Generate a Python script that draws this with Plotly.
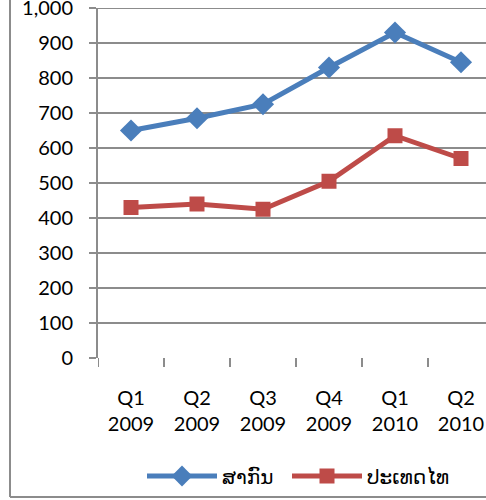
import plotly.graph_objects as go

categories = ["Q1<br>2009", "Q2<br>2009", "Q3<br>2009", "Q4<br>2009", "Q1<br>2010", "Q2<br>2010"]
intl_values = [650, 685, 725, 830, 930, 845]
thai_values = [430, 440, 425, 505, 635, 570]
series_names = ["ສາກົນ", "ປະເທດໄທ"]
y_ticks = [0, 100, 200, 300, 400, 500, 600, 700, 800, 900, 1000]

W, H = 486, 500
L, T, B = 98, 8, 142
plot_w = W - L
plot_h = H - T - B

fig = go.Figure()
fig.add_trace(go.Scatter(
    x=list(range(len(categories))), y=intl_values, name=series_names[0],
    mode="lines+markers", legend="legend",
    line=dict(color="#4A7EBB", width=5),
    marker=dict(symbol="diamond", size=17, color="#4A7EBB"),
))
fig.add_trace(go.Scatter(
    x=list(range(len(categories))), y=thai_values, name=series_names[1],
    mode="lines+markers", legend="legend2",
    line=dict(color="#BE4B48", width=5),
    marker=dict(symbol="square", size=15, color="#BE4B48"),
))

font = dict(family="Lato, 'DejaVu Sans', sans-serif", size=20, color="#000000")

cat_px = 66.0
right_val = -0.5 + plot_w / cat_px
leg_y = (H - B - 476) / plot_h

fig.update_layout(
    width=W, height=H,
    margin=dict(l=L, r=0, t=T, b=B, autoexpand=False),
    paper_bgcolor="white", plot_bgcolor="white",
    font=font,
    showlegend=True,
    legend=dict(orientation="h", x=(142 - L) / plot_w, y=leg_y, xanchor="left", yanchor="middle",
                font=font, itemwidth=70, bgcolor="rgba(0,0,0,0)"),
    legend2=dict(orientation="h", x=(287 - L) / plot_w, y=leg_y, xanchor="left", yanchor="middle",
                 font=font, itemwidth=70, bgcolor="rgba(0,0,0,0)"),
    xaxis=dict(
        range=[-0.5, right_val],
        tickmode="array", tickvals=list(range(len(categories))), ticktext=categories,
        showgrid=False, showline=False, zeroline=False,
        ticks="", tickfont=font, ticklabelstandoff=26,
    ),
    yaxis=dict(
        range=[0, 1000], tickmode="array", tickvals=y_ticks,
        ticktext=[f"{v:,}" for v in y_ticks],
        showgrid=True, gridcolor="#8C8C8C", gridwidth=2,
        showline=True, linecolor="#8C8C8C", linewidth=2,
        ticks="outside", ticklen=7, tickcolor="#8C8C8C", tickwidth=2,
        zeroline=False, tickfont=font, ticklabelstandoff=12,
        ticklabeloverflow="allow",
    ),
)

shapes = []
for i in range(len(categories) + 1):
    xv = -0.5 + i
    shapes.append(dict(type="line", xref="x", yref="paper", x0=xv, x1=xv,
                       y0=0, y1=-9 / plot_h, line=dict(color="#8C8C8C", width=2)))
shapes.append(dict(type="line", xref="paper", yref="y", x0=-7 / plot_w, x1=1, y0=y_ticks[-1], y1=y_ticks[-1],
                   line=dict(color="#8C8C8C", width=2), layer="below"))
fx = (10 - L) / plot_w
fy = (H - B - 497) / plot_h
top = (H - B) / plot_h
shapes.append(dict(type="line", xref="paper", yref="paper", x0=fx, x1=fx, y0=fy, y1=top + 0.05,
                   line=dict(color="#8C8C8C", width=2)))
shapes.append(dict(type="line", xref="paper", yref="paper", x0=fx, x1=1.05, y0=fy, y1=fy,
                   line=dict(color="#8C8C8C", width=2)))
fig.update_layout(shapes=shapes)

fig.write_html("out.html", config={"displayModeBar": False},
               post_script="document.body.style.margin='0';")
